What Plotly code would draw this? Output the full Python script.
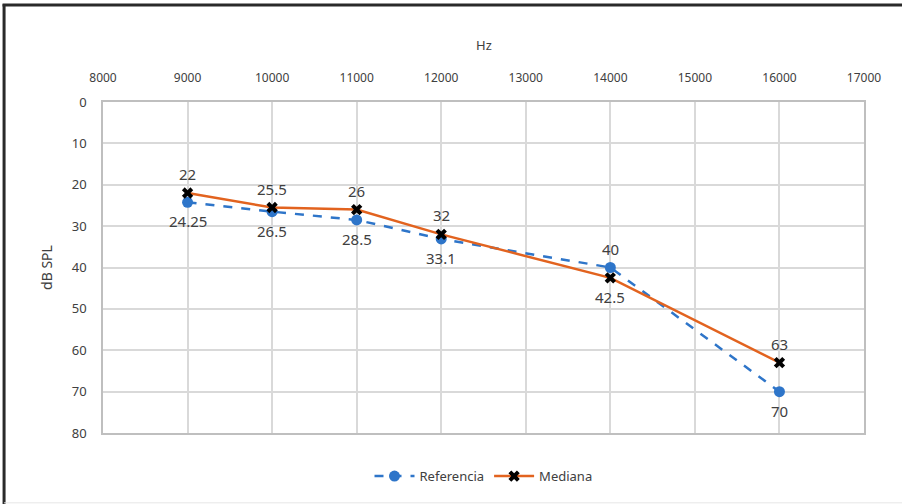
import plotly.graph_objects as go

# Frequencies (Hz) and hearing thresholds (dB SPL)
freqs = [9000, 10000, 11000, 12000, 14000, 16000]
referencia = [24.25, 26.5, 28.5, 33.1, 40, 70]
mediana = [22, 25.5, 26, 32, 42.5, 63]
ref_labels = ["24.25", "26.5", "28.5", "33.1", "40", "70"]
med_labels = ["22", "25.5", "26", "32", "42.5", "63"]
# label placement: +1 above point, -1 below point
ref_side = [-1, -1, -1, -1, 1, -1]
med_side = [1, 1, 1, 1, -1, 1]

blue = "#2E75C9"
orange = "#E2631F"
grid = "#D9D9D9"
txt = "#404040"
font = "Noto Sans"

fig = go.Figure()
fig.add_trace(go.Scatter(
    x=freqs, y=referencia, name="Referencia", mode="lines+markers",
    line=dict(color=blue, width=2.5, dash="dash"),
    marker=dict(symbol="circle", size=11, color=blue),
))
fig.add_trace(go.Scatter(
    x=freqs, y=mediana, name="Mediana", mode="lines+markers",
    line=dict(color=orange, width=2.5),
    marker=dict(symbol="x", size=10, color="black"),
))

anns = []
for x, y, t, s in zip(freqs, referencia, ref_labels, ref_side):
    anns.append(dict(x=x, y=y, text=t, showarrow=False, yshift=19 * s,
                     font=dict(size=15, color=txt, family=font)))
for x, y, t, s in zip(freqs, mediana, med_labels, med_side):
    anns.append(dict(x=x, y=y, text=t, showarrow=False, yshift=19 * s,
                     font=dict(size=15, color=txt, family=font)))

fig.update_layout(
    width=902, height=504,
    margin=dict(l=103, r=38, t=102, b=71),
    paper_bgcolor="white", plot_bgcolor="white",
    font=dict(family=font, color=txt, size=12),
    annotations=anns + [
        dict(text="Hz", xref="paper", yref="paper", x=0.5, y=1.0, yshift=57,
             yanchor="middle", showarrow=False,
             font=dict(size=13, color=txt, family=font)),
    ],
    showlegend=True,
    legend=dict(orientation="h", x=0.5, xanchor="center", y=-0.085,
                yanchor="top", font=dict(size=13, color=txt, family=font),
                itemwidth=40),
    xaxis=dict(side="top", range=[8000, 17000], dtick=1000, tick0=8000,
               tickformat="d",
               showgrid=True, gridcolor=grid, gridwidth=1.5,
               showline=True, linecolor="#BFBFBF", linewidth=1.5, mirror=True,
               zeroline=False, ticks="", tickfont=dict(size=12, color=txt),
               ticklabelstandoff=13),
    yaxis=dict(range=[80, 0], dtick=10, tick0=0,
               showgrid=True, gridcolor=grid, gridwidth=1.5,
               showline=True, linecolor="#BFBFBF", linewidth=1.5, mirror=True,
               zeroline=False, ticks="", tickfont=dict(size=13, color=txt),
               ticklabelstandoff=12,
               title=dict(text="dB SPL", font=dict(size=14, color=txt), standoff=16)),
    shapes=[
        # outer frame: dark left and top edges, faint bottom edge
        dict(type="line", xref="paper", yref="paper", x0=-0.130, x1=-0.130,
             y0=-0.215, y1=1.295, line=dict(color="#2A2A2A", width=3)),
        dict(type="line", xref="paper", yref="paper", x0=-0.132, x1=1.06,
             y0=1.293, y1=1.293, line=dict(color="#2A2A2A", width=3)),
        dict(type="line", xref="paper", yref="paper", x0=-0.130, x1=1.06,
             y0=-0.211, y1=-0.211, line=dict(color="#E6E6E6", width=1)),
    ],
)

fig.write_html("out.html")
